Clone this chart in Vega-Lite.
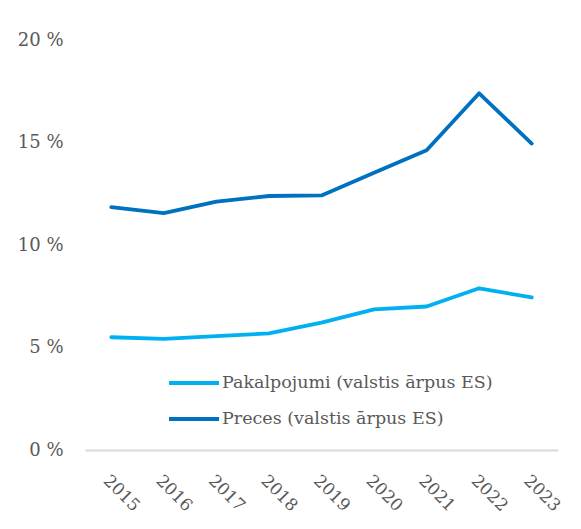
{
  "$schema": "https://vega.github.io/schema/vega-lite/v6.json",
  "width": 473,
  "height": 410,
  "autosize": {"type": "none"},
  "padding": {"left": 85, "top": 40, "right": 23, "bottom": 79},
  "background": "white",
  "config": {
    "view": {"stroke": null},
    "font": "DejaVu Serif"
  },
  "data": {
    "values": [
      {"year": "2015", "series": "Pakalpojumi (valstis ārpus ES)", "value": 5.5},
      {"year": "2016", "series": "Pakalpojumi (valstis ārpus ES)", "value": 5.42},
      {"year": "2017", "series": "Pakalpojumi (valstis ārpus ES)", "value": 5.55},
      {"year": "2018", "series": "Pakalpojumi (valstis ārpus ES)", "value": 5.69},
      {"year": "2019", "series": "Pakalpojumi (valstis ārpus ES)", "value": 6.21},
      {"year": "2020", "series": "Pakalpojumi (valstis ārpus ES)", "value": 6.86},
      {"year": "2021", "series": "Pakalpojumi (valstis ārpus ES)", "value": 7.0},
      {"year": "2022", "series": "Pakalpojumi (valstis ārpus ES)", "value": 7.89},
      {"year": "2023", "series": "Pakalpojumi (valstis ārpus ES)", "value": 7.44},
      {"year": "2015", "series": "Preces (valstis ārpus ES)", "value": 11.85},
      {"year": "2016", "series": "Preces (valstis ārpus ES)", "value": 11.55},
      {"year": "2017", "series": "Preces (valstis ārpus ES)", "value": 12.12},
      {"year": "2018", "series": "Preces (valstis ārpus ES)", "value": 12.39},
      {"year": "2019", "series": "Preces (valstis ārpus ES)", "value": 12.42},
      {"year": "2020", "series": "Preces (valstis ārpus ES)", "value": 13.53},
      {"year": "2021", "series": "Preces (valstis ārpus ES)", "value": 14.62},
      {"year": "2022", "series": "Preces (valstis ārpus ES)", "value": 17.4},
      {"year": "2023", "series": "Preces (valstis ārpus ES)", "value": 14.95}
    ]
  },
  "mark": {"type": "line", "strokeWidth": 3.8, "strokeCap": "round", "strokeJoin": "round"},
  "encoding": {
    "x": {
      "field": "year",
      "type": "ordinal",
      "scale": {"type": "point", "padding": 0.5},
      "axis": {
        "title": null,
        "labelAngle": 45,
        "labelFontSize": 17,
        "labelColor": "#595959",
        "labelPadding": 22,
        "ticks": false,
        "domainColor": "#D9D9D9",
        "domainWidth": 2,
        "grid": false
      }
    },
    "y": {
      "field": "value",
      "type": "quantitative",
      "scale": {"domain": [0, 20], "nice": false},
      "axis": {
        "title": null,
        "values": [0, 5, 10, 15, 20],
        "labelExpr": "datum.value + ' %'",
        "labelFontSize": 18,
        "labelColor": "#595959",
        "labelPadding": 22,
        "ticks": false,
        "domain": false,
        "grid": false
      }
    },
    "color": {
      "field": "series",
      "type": "nominal",
      "scale": {
        "domain": ["Pakalpojumi (valstis ārpus ES)", "Preces (valstis ārpus ES)"],
        "range": ["#00B0F0", "#0070C0"]
      },
      "legend": {
        "title": null,
        "orient": "none",
        "legendX": 82,
        "legendY": 316,
        "symbolType": "stroke",
        "symbolSize": 2500,
        "symbolStrokeWidth": 4,
        "labelFontSize": 17.5,
        "labelColor": "#595959",
        "labelOffset": 1,
        "labelLimit": 400,
        "rowPadding": -30
      }
    }
  }
}
